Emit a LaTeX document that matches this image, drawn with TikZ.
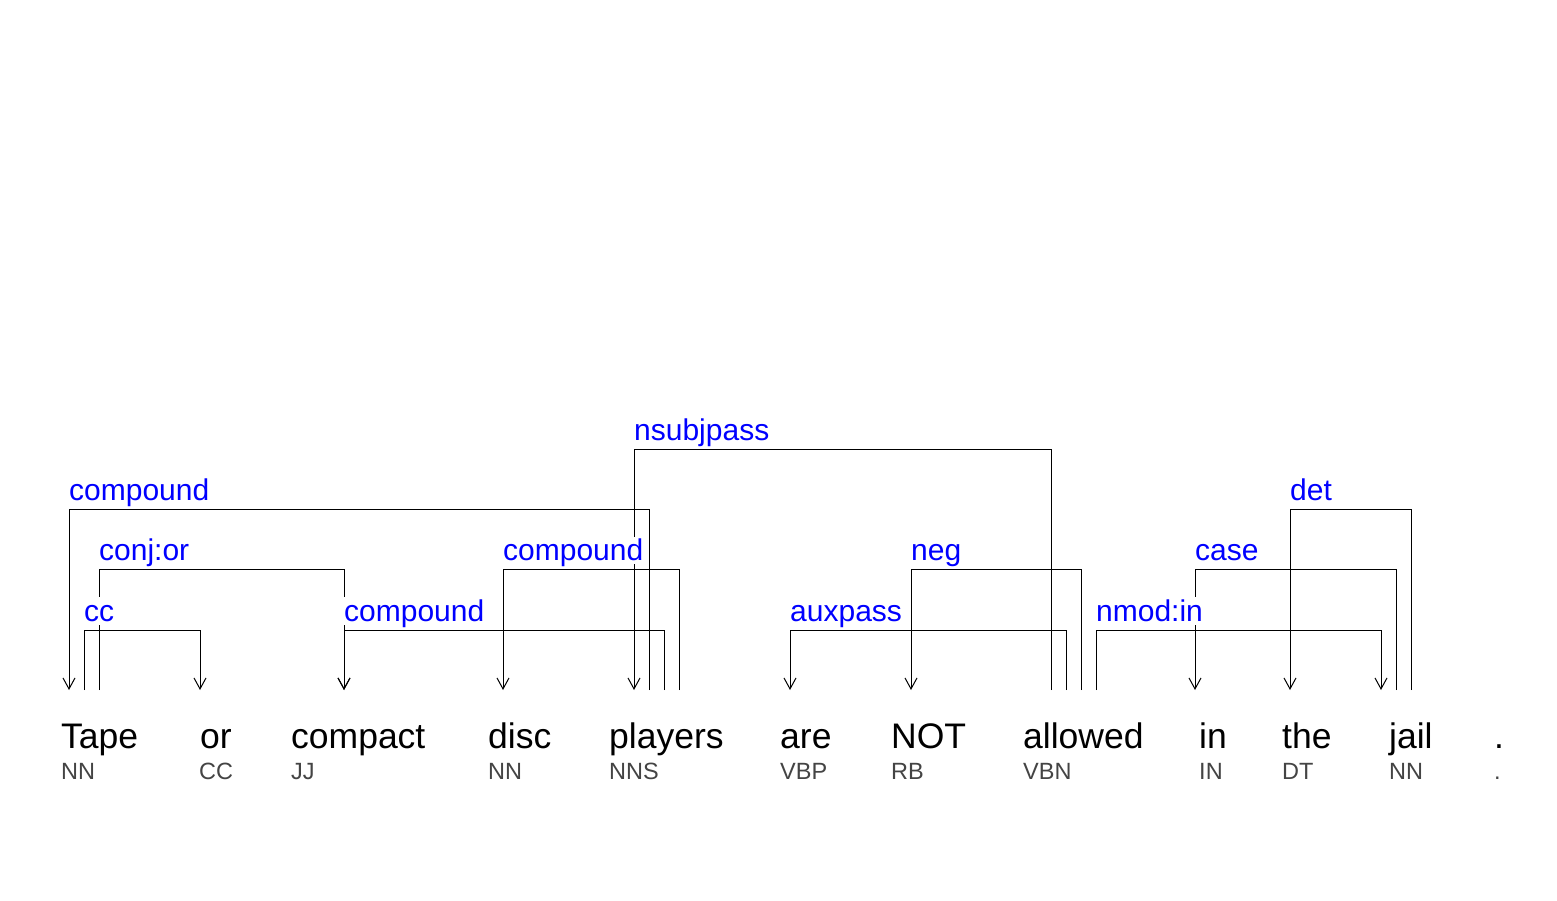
\documentclass[tikz,border=0pt]{standalone}
\usepackage{fontspec}
\setmainfont{Liberation Sans}
\usetikzlibrary{arrows.meta}
\definecolor{labblue}{RGB}{0,0,255}
\definecolor{taggray}{RGB}{68,68,68}
\tikzset{
  word/.style={anchor=base west, inner sep=0pt, font=\fontsize{35.5}{40}\selectfont, text=black},
  tag/.style={anchor=base west, inner sep=0pt, font=\fontsize{23.5}{26}\selectfont, text=taggray},
  lab/.style={anchor=base west, inner xsep=1pt, inner ysep=2pt, text height=22pt, text depth=1.5pt, fill=white, font=\fontsize{30}{36}\selectfont, text=labblue},
  dep/.style={draw=black, line width=1pt, -{Straight Barb[length=11pt,width=12pt]}},
}
\begin{document}
\begin{tikzpicture}[x=1pt,y=1pt]
\useasboundingbox[fill=white] (0,0) rectangle (1557,900);
% words
\node[word] (w1) at (61,152) {Tape};
\node[word] (w2) at (200,152) {or};
\node[word] (w3) at (291,152) {compact};
\node[word] (w4) at (488,152) {disc};
\node[word] (w5) at (609,152) {players};
\node[word] (w6) at (780,152) {are};
\node[word] (w7) at (891,152) {NOT};
\node[word] (w8) at (1023,152) {allowed};
\node[word] (w9) at (1199,152) {in};
\node[word] (w10) at (1282,152) {the};
\node[word] (w11) at (1389,152) {jail};
\node[word] (w12) at (1494,152) {.};
% tags
\node[tag] (t1) at (61,121) {NN};
\node[tag] (t2) at (199,121) {CC};
\node[tag] (t3) at (291,121) {JJ};
\node[tag] (t4) at (488,121) {NN};
\node[tag] (t5) at (609,121) {NNS};
\node[tag] (t6) at (780,121) {VBP};
\node[tag] (t7) at (891,121) {RB};
\node[tag] (t8) at (1023,121) {VBN};
\node[tag] (t9) at (1199,121) {IN};
\node[tag] (t10) at (1282,121) {DT};
\node[tag] (t11) at (1389,121) {NN};
\node[tag] (t12) at (1494,121) {.};
% attachment points
\coordinate (tape-in) at (69,210);
\coordinate (tape-a) at (84,210);
\coordinate (tape-b) at (99,210);
\coordinate (or-in) at (200,210);
\coordinate (compact-in) at (344,210);
\coordinate (disc-in) at (503,210);
\coordinate (players-in) at (634,210);
\coordinate (players-a) at (649,210);
\coordinate (players-b) at (664,210);
\coordinate (players-c) at (679,210);
\coordinate (are-in) at (790,210);
\coordinate (not-in) at (911,210);
\coordinate (allowed-a) at (1051,210);
\coordinate (allowed-b) at (1066,210);
\coordinate (allowed-c) at (1081,210);
\coordinate (allowed-d) at (1096,210);
\coordinate (in-in) at (1195,210);
\coordinate (the-in) at (1290,210);
\coordinate (jail-in) at (1381,210);
\coordinate (jail-a) at (1396,210);
\coordinate (jail-b) at (1411,210);
% connectors
\draw[dep] (allowed-a) -- ++(0,240) -| (players-in);
\draw[dep] (players-a) -- ++(0,180) -| (tape-in);
\draw[dep] (jail-b) -- ++(0,180) -| (the-in);
\draw[dep] (tape-b) -- ++(0,120) -| (compact-in);
\draw[dep] (players-c) -- ++(0,120) -| (disc-in);
\draw[dep] (allowed-c) -- ++(0,120) -| (not-in);
\draw[dep] (jail-a) -- ++(0,120) -| (in-in);
\draw[dep] (tape-a) -- ++(0,60) -| (or-in);
\draw[dep] (players-b) -- ++(0,60) -| (compact-in);
\draw[dep] (allowed-b) -- ++(0,60) -| (are-in);
\draw[dep] (allowed-d) -- ++(0,60) -| (jail-in);
% labels
\node[lab] (l1) at (633,459) {nsubjpass};
\node[lab] (l2) at (68,399) {compound};
\node[lab] (l3) at (1289,399) {det};
\node[lab] (l4) at (98,339) {conj:or};
\node[lab] (l5) at (502,339) {compound};
\node[lab] (l6) at (910,339) {neg};
\node[lab] (l7) at (1194,339) {case};
\node[lab] (l8) at (83,279) {cc};
\node[lab] (l9) at (343,279) {compound};
\node[lab] (l10) at (789,279) {auxpass};
\node[lab] (l11) at (1095,279) {nmod:in};
\end{tikzpicture}
\end{document}
